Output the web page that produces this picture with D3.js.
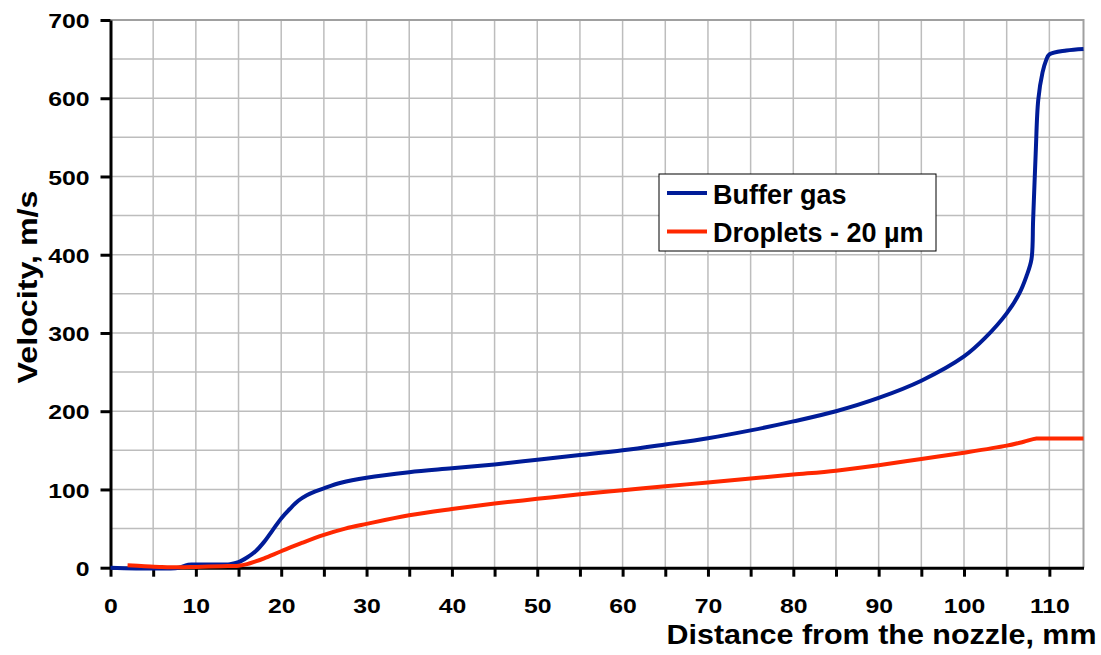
<!DOCTYPE html>
<html>
<head>
<meta charset="utf-8">
<script src="https://cdn.jsdelivr.net/npm/d3@7"></script>
<style>
  body { margin: 0; background: #fff; }
  text { font-family: "Liberation Sans", Arial, sans-serif; font-weight: bold; }
</style>
</head>
<body>
<div id="chart"></div>
<script>
// Buffer gas velocity
const gasX = [0, 8, 8.8, 9.5, 12, 14, 15, 16, 17, 18, 19, 20, 21, 22, 23, 24, 25, 27, 30, 35, 40, 45, 50, 55, 60, 65, 70, 75, 80, 85, 90, 95, 100, 102.5, 105, 106.5, 107.3, 107.9, 108.1, 108.4, 108.7, 109.2, 109.6, 110, 112, 114];
const gasV = [0, 0, 3, 4, 4, 4.5, 7, 13, 21, 33, 48, 63, 75, 85.5, 92.5, 97.5, 101.5, 108.5, 115, 122, 127, 132, 138, 144, 150, 157.5, 165.5, 175.5, 187, 200, 217, 239, 270, 294, 325, 351, 372, 394, 445, 530, 598, 633, 648, 656, 661, 663];

// Droplets 20 um velocity
const dropX = [2, 4, 6, 8, 10, 13, 15, 16, 17, 18, 20, 22.5, 25, 27.5, 30, 35, 40, 45, 50, 55, 60, 65, 70, 75, 80, 85, 90, 95, 100, 105, 107, 108.5, 110, 114];
const dropV = [3, 2, 1, 0.5, 1, 2, 2.5, 4.5, 8, 12, 21, 32, 42, 50, 56, 67, 75, 82, 88, 94, 99, 104, 109, 114, 119, 124, 131, 139, 147, 156, 161, 165, 165, 165];

const xTicks = d3.range(0, 115, 5);
const xLabels = d3.range(0, 111, 10);
const yTicks = d3.range(0, 701, 100);
const yGrid = d3.range(50, 701, 50);

const seriesNames = ["Buffer gas", "Droplets - 20 \u00b5m"];
const seriesColors = ["#001c98", "#ff2800"];

// Layout
const W = 1101, H = 655;
const plotL = 110.5, plotR = 1083.5, plotT = 20, plotB = 567.7;

const svg = d3.select("#chart")
  .append("svg")
  .attr("width", W)
  .attr("height", H);

const x = d3.scaleLinear().domain([0, 114]).range([plotL, plotR]);
const y = d3.scaleLinear().domain([0, 700]).range([plotB, plotT]);

// Grid
svg.append("g")
  .selectAll("line")
  .data(xTicks.filter(d => d > 0))
  .enter()
  .append("line")
  .attr("x1", d => x(d)).attr("x2", d => x(d))
  .attr("y1", plotT).attr("y2", plotB)
  .attr("stroke", "#bdbdbd")
  .attr("stroke-width", 1.5);

svg.append("g")
  .selectAll("line")
  .data(yGrid)
  .enter()
  .append("line")
  .attr("x1", plotL).attr("x2", plotR)
  .attr("y1", d => y(d)).attr("y2", d => y(d))
  .attr("stroke", "#bdbdbd")
  .attr("stroke-width", 1.5);

// Top and right frame
svg.append("path")
  .attr("d", `M${plotL},${plotT}H${plotR}V${plotB}`)
  .attr("fill", "none")
  .attr("stroke", "#a0a0a0")
  .attr("stroke-width", 2);

// Axes
const xAxis = svg.append("g")
  .attr("transform", `translate(0, ${plotB})`)
  .call(d3.axisBottom(x).tickValues(xTicks).tickSize(9).tickSizeOuter(0)
    .tickFormat(d => xLabels.includes(d) ? d : ""));

xAxis.select(".domain").attr("stroke", "#000").attr("stroke-width", 3);
xAxis.selectAll(".tick line").attr("stroke", "#000").attr("stroke-width", 3);
xAxis.selectAll(".tick text")
  .attr("y", 0)
  .attr("dy", 0)
  .attr("transform", "translate(0,45) scale(1.18,1)")
  .attr("font-size", 21)
  .attr("fill", "#000");

const yAxis = svg.append("g")
  .attr("transform", `translate(${plotL}, 0)`)
  .call(d3.axisLeft(y).tickValues(yTicks).tickSize(10).tickSizeOuter(0));

yAxis.select(".domain").attr("stroke", "#000").attr("stroke-width", 3);
yAxis.selectAll(".tick line").attr("stroke", "#000").attr("stroke-width", 3);
yAxis.selectAll(".tick text")
  .attr("x", 0)
  .attr("dy", "0.36em")
  .attr("transform", "translate(-21,0) scale(1.18,1)")
  .attr("font-size", 21)
  .attr("fill", "#000");

// Lines
const line = d3.line()
  .x(d => x(d[0]))
  .y(d => y(d[1]))
  .curve(d3.curveCatmullRom.alpha(0.5));

const series = [
  d3.zip(gasX, gasV),
  d3.zip(dropX, dropV)
];

svg.selectAll(".series")
  .data(series)
  .enter()
  .append("path")
  .attr("class", "series")
  .attr("d", line)
  .attr("fill", "none")
  .attr("stroke", (d, i) => seriesColors[i])
  .attr("stroke-width", 4)
  .attr("stroke-linejoin", "round");

// Axis titles
svg.append("text")
  .attr("x", 1096.5)
  .attr("y", 643.5)
  .attr("text-anchor", "end")
  .attr("font-size", 27)
  .attr("textLength", 430)
  .attr("lengthAdjust", "spacingAndGlyphs")
  .text("Distance from the nozzle, mm");

svg.append("text")
  .attr("transform", "translate(37, 287) rotate(-90)")
  .attr("text-anchor", "middle")
  .attr("font-size", 27)
  .attr("textLength", 193)
  .attr("lengthAdjust", "spacingAndGlyphs")
  .text("Velocity, m/s");

// Legend
const legend = svg.append("g").attr("transform", "translate(659, 174)");
legend.append("rect")
  .attr("width", 277)
  .attr("height", 77)
  .attr("fill", "#fff")
  .attr("stroke", "#000")
  .attr("stroke-width", 1);

const items = legend.selectAll(".item")
  .data(seriesNames)
  .enter()
  .append("g")
  .attr("transform", (d, i) => `translate(0, ${19 + i * 38.5})`);

items.append("line")
  .attr("x1", 8).attr("x2", 48)
  .attr("stroke", (d, i) => seriesColors[i])
  .attr("stroke-width", 4);

items.append("text")
  .attr("x", 54)
  .attr("y", 10.5)
  .attr("font-size", 27)
  .text(d => d);
</script>
</body>
</html>
